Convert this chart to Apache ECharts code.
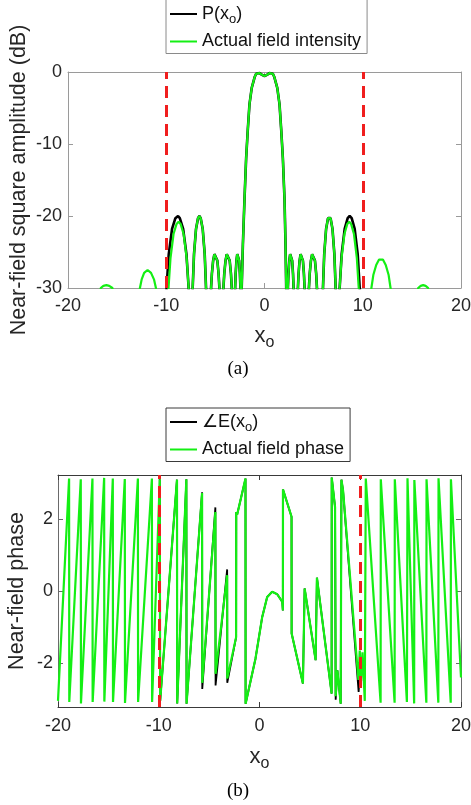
<!DOCTYPE html>
<html><head><meta charset="utf-8">
<script src="https://cdn.jsdelivr.net/npm/echarts@6/dist/echarts.min.js"></script>
<style>html,body{margin:0;padding:0;background:#fff}#c{width:471px;height:805px}</style>
</head><body><div id="c"></div>
<script>
// ---------- DATA ----------
// Panel (a): near-field square amplitude in dB, clipped at -30 dB
const xTicksA = [-20, -10, 0, 10, 20];
const yTicksA = [-30, -20, -10, 0];
const boundaries = [-10, 10];

// black P(xo): outermost lobes (left / right)
const pLeftLobe = [[-10.05,-45],[-9.97,-30],[-9.745,-25.3],[-9.41,-21.8],[-9.07,-20.3],[-8.8,-20.0],[-8.62,-20.3],[-8.28,-21.8],[-7.945,-25.3],[-7.72,-30],[-7.5,-45]];
const pRightLobe = [[7.45,-45],[7.65,-30],[7.854,-25.3],[8.16,-21.8],[8.466,-20.3],[8.67,-20.0],[8.874,-20.3],[9.18,-21.8],[9.486,-25.3],[9.69,-30],[10.0,-45]];
// lobes shared by both curves (between the two -20 dB outer lobes)
const innerLobes = [
  [-7.31,-30],[-7.174,-25.3],[-6.97,-21.8],[-6.766,-20.3],[-6.63,-20.0],[-6.494,-20.3],[-6.29,-21.8],[-6.086,-25.3],[-5.95,-30],
  [-5.7,-45],
  [-5.44,-30],[-5.355,-28.0],[-5.228,-26.2],[-5.1,-25.3],[-5.015,-25.1],[-4.93,-25.3],[-4.8,-26.2],[-4.675,-28.0],[-4.59,-30],
  [-4.385,-45],
  [-4.18,-30],[-4.095,-28.0],[-3.968,-26.2],[-3.84,-25.3],[-3.755,-25.1],[-3.67,-25.3],[-3.543,-26.2],[-3.415,-28.0],[-3.33,-30],
  [-3.16,-45],
  [-2.99,-30],[-2.936,-28.0],[-2.855,-26.2],[-2.774,-25.3],[-2.72,-25.1],[-2.666,-25.3],[-2.585,-26.2],[-2.504,-28.0],[-2.45,-30],
  [-2.39,-45],
  [-2.32,-30],[-2.2,-24],[-2.04,-17.8],[-1.87,-12],[-1.7,-8],[-1.53,-4.5],[-1.3,-2.2],[-1.0,-0.7],[-0.85,-0.25],[-0.7,-0.05],[-0.5,-0.15],[-0.25,-0.4],[0,-0.55],[0.25,-0.4],[0.5,-0.15],[0.7,-0.05],[0.85,-0.25],[1.0,-0.7],[1.3,-2.2],[1.53,-4.5],[1.7,-8],[1.87,-12],[2.04,-17.8],[2.14,-24],[2.21,-30],
  [2.3,-45],
  [2.38,-30],[2.438,-28],[2.525,-26.2],[2.612,-25.3],[2.67,-25.1],[2.728,-25.3],[2.815,-26.2],[2.902,-28],[2.96,-30],
  [3.18,-45],
  [3.4,-30],[3.468,-28],[3.57,-26.2],[3.672,-25.3],[3.74,-25.1],[3.808,-25.3],[3.91,-26.2],[4.012,-28],[4.08,-30],
  [4.3,-45],
  [4.52,-30],[4.602,-28],[4.725,-26.2],[4.848,-25.3],[4.93,-25.1],[5.012,-25.3],[5.135,-26.2],[5.258,-28],[5.34,-30],
  [5.65,-45],
  [5.95,-30],[6.079,-25.3],[6.27,-21.8],[6.466,-20.3],[6.595,-20.05],[6.724,-20.3],[6.92,-21.8],[7.111,-25.3],[7.24,-30]
];
// green actual field intensity: outer parts
const fieldLeftPart = [[-20,-45],[-17.2,-45],[-16.67,-30],[-16.4,-29.7],[-16.09,-29.6],[-15.8,-29.7],[-15.48,-30],[-14.0,-45],
  [-12.68,-30],[-12.5,-28.8],[-12.25,-27.9],[-11.9,-27.5],[-11.55,-27.9],[-11.25,-28.8],[-11.05,-30],[-10.4,-45],
  [-9.77,-30],[-9.565,-25.8],[-9.258,-22.5],[-8.95,-21.1],[-8.745,-20.8],[-8.54,-21.1],[-8.233,-22.5],[-7.925,-25.8],[-7.72,-30],[-7.5,-45]];
const fieldRightPart = [[7.45,-45],[7.65,-30],[7.844,-25.8],[8.135,-22.5],[8.426,-21.1],[8.62,-20.8],[8.814,-21.1],[9.105,-22.5],[9.396,-25.8],[9.59,-30],[10.2,-45],
  [10.88,-30],[11.075,-28.2],[11.37,-26.8],[11.66,-26.05],[11.8,-25.9],[12.05,-26.05],[12.34,-26.8],[12.635,-28.2],[12.83,-30],[14.2,-45],
  [15.64,-30],[15.9,-29.7],[16.15,-29.6],[16.4,-29.7],[16.66,-30],[17.2,-45],[20,-45]];

// Panel (b): near-field phase (rad)
const yTicksB = [-2, 0, 2];
const phaseE = [[-9.90,3.10],[-9.86,-3.05],[-8.19,3.09],[-8.17,-3.12],[-7.26,3.10],[-7.24,-3.13],[-5.70,2.74],[-5.68,-2.72],[-4.38,2.32],[-4.36,-2.62],[-3.21,0.60],[-3.20,-2.55],[-2.32,-1.28],[-2.31,2.19],[-2.22,2.12],[-1.39,3.12],[-1.38,-3.13],[-0.40,-1.88],[0.27,-0.72],[0.76,-0.17],[1.26,-0.02],[1.76,-0.09],[2.26,-0.30],[2.32,-0.54],[2.33,2.82],[3.18,2.06],[3.19,-1.18],[4.31,-2.57],[4.48,0.07],[5.57,-1.92],[5.70,0.37],[7.16,-2.85],[7.17,3.15],[7.50,2.33],[7.56,-3.02],[7.73,-2.2],[8.06,-3.13],[8.13,3.09],[8.29,2.80],[9.84,-2.80],[9.95,-2.3]];
const phaseField = [[-20.0,-3.05],[-18.9,3.12],[-18.88,-3.08],[-17.74,3.10],[-17.72,-3.12],[-16.58,3.12],[-16.56,-3.08],[-15.42,3.14],[-15.40,-3.07],[-14.56,3.12],[-14.54,-3.08],[-13.37,3.11],[-13.35,-3.11],[-12.07,3.12],[-12.05,-3.08],[-10.68,3.12],[-10.66,-3.08],[-9.90,3.10],[-9.86,-3.05],[-8.19,3.09],[-8.17,-3.12],[-7.26,3.10],[-7.24,-3.13],[-5.70,2.72],[-5.68,-2.55],[-4.38,2.19],[-4.36,-2.30],[-3.21,0.44],[-3.20,-2.43],[-2.32,-1.28],[-2.31,2.19],[-2.22,2.12],[-1.39,3.12],[-1.38,-3.13],[-0.40,-1.88],[0.27,-0.72],[0.76,-0.17],[1.26,-0.02],[1.76,-0.09],[2.26,-0.30],[2.32,-0.54],[2.33,2.82],[3.18,2.06],[3.19,-1.18],[4.31,-2.57],[4.48,0.07],[5.57,-1.92],[5.70,0.37],[7.16,-2.85],[7.17,3.15],[7.50,2.33],[7.56,-2.92],[7.73,-2.2],[8.06,-3.13],[8.13,3.09],[8.29,2.80],[9.82,-2.47],[9.95,-1.65],[10.08,-2.5],[10.22,-1.7],[10.45,-3.05],[10.55,3.12],[12.02,-3.10],[12.04,3.10],[13.41,-3.10],[13.43,3.10],[14.63,-3.08],[14.69,3.13],[15.35,-3.12],[15.37,3.08],[16.56,-3.10],[16.58,3.10],[17.75,-3.10],[17.77,3.13],[18.98,-3.10],[19.0,3.10],[20.0,-2.4]];

const pCurve = [...pLeftLobe, ...innerLobes, ...pRightLobe];
const intensityCurve = [...fieldLeftPart, ...innerLobes, ...fieldRightPart];

// ---------- CHART ----------
const FONT = '"Liberation Sans", Arial, Helvetica, sans-serif';
const TXT = '#262626';
const GREEN = '#14ef14';
const RED = '#f01e1e';

function xAx(grid, pos, color, withLabels, margin, nameGap) {
  const a = {
    gridIndex: grid, type: 'value', min: -20, max: 20, interval: 10, position: pos,
    axisLine: {show: true, onZero: false, lineStyle: {color: color, width: 1}},
    axisTick: {show: true, inside: true, length: 5, lineStyle: {color: color}},
    axisLabel: {show: withLabels, fontSize: 18, fontFamily: FONT, color: TXT, margin: margin},
    splitLine: {show: false}
  };
  if (withLabels) {
    a.name = '{x|x}{o|o}';
    a.nameLocation = 'middle';
    a.nameGap = nameGap;
    a.nameMoveOverlap = false;
    a.nameTextStyle = {rich: {
      x: {fontSize: 22, fontFamily: FONT, color: TXT},
      o: {fontSize: 16, fontFamily: FONT, color: TXT, padding: [14, 0, 0, 0]}
    }};
  }
  return a;
}

function boundarySeries(xi, yi) {
  return {name: 'boundary', type: 'line', xAxisIndex: xi, yAxisIndex: yi, data: [], z: 10, silent: true,
    markLine: {silent: true, z: 10, symbol: ['none', 'none'], label: {show: false}, animation: false,
      lineStyle: {color: RED, width: 3, type: [12, 7]},
      data: boundaries.map(b => ({xAxis: b}))}};
}

const option = {
  animation: false,
  backgroundColor: '#fff',
  grid: [
    {left: 68, top: 72, width: 393, height: 216, outerBoundsMode: 'none'},
    {left: 58, top: 475, width: 403, height: 232, outerBoundsMode: 'none'}
  ],
  xAxis: [
    xAx(0, 'bottom', '#9a9a9a', true, 9, 33),
    xAx(0, 'top', '#9a9a9a', false, 0, 0),
    xAx(1, 'bottom', '#3a3a3a', true, 10, 35),
    xAx(1, 'top', '#3a3a3a', false, 0, 0)
  ],
  yAxis: [
    {gridIndex: 0, type: 'value', min: yTicksA[0], max: yTicksA[yTicksA.length-1], interval: 10, position: 'left',
     axisLine: {show: true, onZero: false, lineStyle: {color: '#9a9a9a'}},
     axisTick: {show: true, inside: true, length: 5, lineStyle: {color: '#9a9a9a'}},
     axisLabel: {fontSize: 18, fontFamily: FONT, color: TXT, margin: 6},
     splitLine: {show: false},
     name: 'Near-field square amplitude (dB)', nameLocation: 'middle', nameGap: 38, nameMoveOverlap: false,
     nameTextStyle: {fontSize: 21.5, fontFamily: FONT, color: TXT}},
    {gridIndex: 0, type: 'value', min: -30, max: 0, interval: 10, position: 'right',
     axisLine: {show: true, onZero: false, lineStyle: {color: '#9a9a9a'}},
     axisTick: {show: true, inside: true, length: 5, lineStyle: {color: '#9a9a9a'}},
     axisLabel: {show: false}, splitLine: {show: false}},
    {gridIndex: 1, type: 'value', min: -3.22, max: 3.22, position: 'left',
     axisLine: {show: true, onZero: false, lineStyle: {color: '#6a6a6a'}},
     axisTick: {show: true, inside: true, length: 5, customValues: yTicksB, lineStyle: {color: '#6a6a6a'}},
     axisLabel: {fontSize: 18, fontFamily: FONT, color: TXT, margin: 5, customValues: yTicksB},
     splitLine: {show: false},
     name: 'Near-field phase', nameLocation: 'middle', nameGap: 30, nameMoveOverlap: false,
     nameTextStyle: {fontSize: 21.5, fontFamily: FONT, color: TXT}},
    {gridIndex: 1, type: 'value', min: -3.22, max: 3.22, position: 'right',
     axisLine: {show: true, onZero: false, lineStyle: {color: '#6a6a6a'}},
     axisTick: {show: true, inside: true, length: 5, customValues: yTicksB, lineStyle: {color: '#6a6a6a'}},
     axisLabel: {show: false}, splitLine: {show: false}}
  ],
  legend: [
    {data: ['P(xo)', 'Actual field intensity'], left: 166, top: -1, orient: 'vertical',
     icon: 'rect', itemWidth: 27, itemHeight: 2, itemGap: 7, padding: [6, 6, 3, 4],
     borderColor: '#8a8a8a', borderWidth: 1, backgroundColor: '#fff', selectedMode: false,
     formatter: n => n === 'P(xo)' ? 'P(x{s|o})' : n,
     textStyle: {fontSize: 18, fontFamily: FONT, color: '#111', rich: {s: {fontSize: 13, fontFamily: FONT, color: '#111', padding: [10, 0, 0, 0]}}}},
    {data: ['∠E(xo)', 'Actual field phase'], left: 166, top: 408, orient: 'vertical',
     icon: 'rect', itemWidth: 27, itemHeight: 2, itemGap: 7, padding: [5, 6, 3, 4],
     borderColor: '#3a3a3a', borderWidth: 1, backgroundColor: '#fff', selectedMode: false,
     formatter: n => n === '∠E(xo)' ? '∠E(x{s|o})' : n,
     textStyle: {fontSize: 18, fontFamily: FONT, color: '#111', rich: {s: {fontSize: 13, fontFamily: FONT, color: '#111', padding: [10, 0, 0, 0]}}}}
  ],
  graphic: [
    {type: 'text', x: 238, y: 369, silent: true, style: {text: '(a)', font: '19px "Liberation Serif", "Times New Roman", serif', fill: '#000', align: 'center', verticalAlign: 'middle'}},
    {type: 'text', x: 238, y: 791, silent: true, style: {text: '(b)', font: '19px "Liberation Serif", "Times New Roman", serif', fill: '#000', align: 'center', verticalAlign: 'middle'}}
  ],
  series: [
    {name: 'P(xo)', type: 'line', xAxisIndex: 0, yAxisIndex: 0, data: pCurve, showSymbol: false, symbol: 'none',
     lineStyle: {color: '#000', width: 2.6}, itemStyle: {color: '#000'}, silent: true, clip: true},
    {name: 'Actual field intensity', type: 'line', xAxisIndex: 0, yAxisIndex: 0, data: intensityCurve, showSymbol: false, symbol: 'none',
     lineStyle: {color: GREEN, width: 2.2}, itemStyle: {color: GREEN}, silent: true, clip: true},
    {name: '∠E(xo)', type: 'line', xAxisIndex: 2, yAxisIndex: 2, data: phaseE, showSymbol: false, symbol: 'none',
     lineStyle: {color: '#000', width: 1.8}, itemStyle: {color: '#000'}, silent: true, clip: true},
    {name: 'Actual field phase', type: 'line', xAxisIndex: 2, yAxisIndex: 2, data: phaseField, showSymbol: false, symbol: 'none',
     lineStyle: {color: GREEN, width: 2.2}, itemStyle: {color: GREEN}, silent: true, clip: true},
    boundarySeries(0, 0),
    boundarySeries(2, 2)
  ]
};
const chart = echarts.init(document.getElementById('c'), null, {renderer: 'canvas'});
chart.setOption(option);
</script></body></html>
